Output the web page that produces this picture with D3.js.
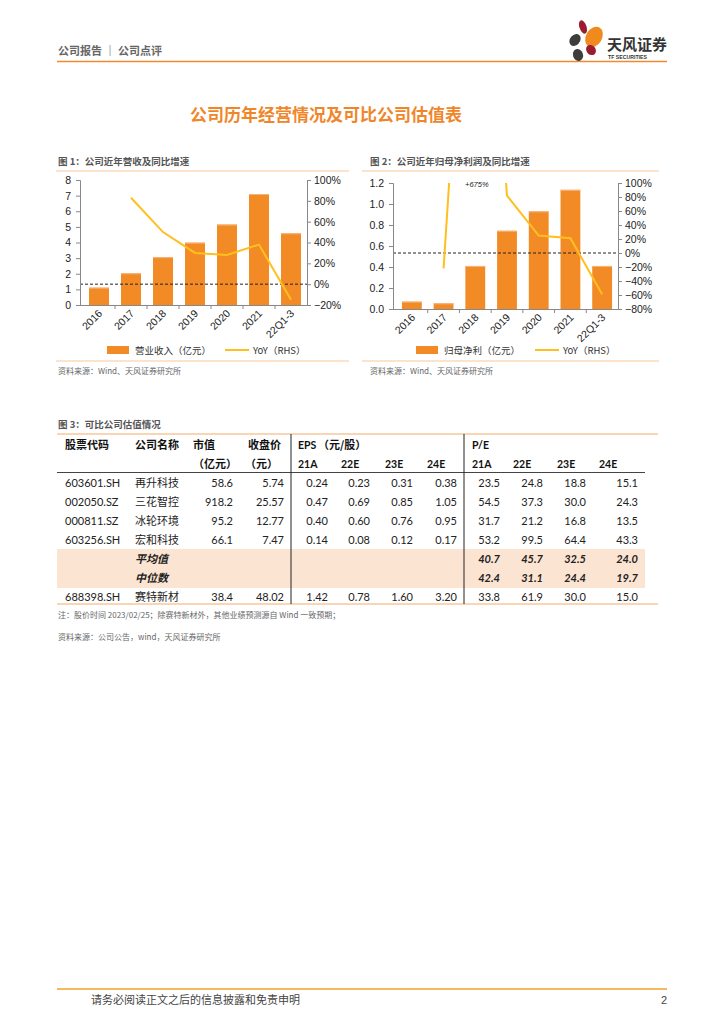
<!DOCTYPE html>
<html><head><meta charset="utf-8">
<script src="https://cdn.jsdelivr.net/npm/d3@7/dist/d3.min.js"></script>
<style>
html,body{margin:0;padding:0;background:#fff;}
svg{display:block;}
</style></head>
<body><div id="chart"></div>
<script>
// ---------- DATA ----------
const years = ["2016","2017","2018","2019","2020","2021","22Q1-3"];
const revenue = [1.11, 2.03, 3.06, 3.99, 5.15, 7.10, 4.59];         // 营业收入（亿元）
const revenueYoY = [null, 0.83, 0.50, 0.30, 0.28, 0.38, -0.15];
const netProfit = [0.07, 0.054, 0.41, 0.745, 0.93, 1.135, 0.41];    // 归母净利（亿元）
const netProfitYoY = [null, -0.22, 6.75, 0.82, 0.25, 0.21, -0.59];
const revLeftTicks = [0,1,2,3,4,5,6,7,8];
const revRightTicks = [-0.2,0,0.2,0.4,0.6,0.8,1.0];
const npLeftTicks = [0,0.2,0.4,0.6,0.8,1.0,1.2];
const npRightTicks = [-0.8,-0.6,-0.4,-0.2,0,0.2,0.4,0.6,0.8,1.0];

const tableCodes = ["603601.SH","002050.SZ","000811.SZ","603256.SH","","","688398.SH"];
const tableNames = ["再升科技","三花智控","冰轮环境","宏和科技","平均值","中位数","赛特新材"];
const tableMktCap = ["58.6","918.2","95.2","66.1","","","38.4"];
const tablePrice = ["5.74","25.57","12.77","7.47","","","48.02"];
const tableEPS = [
  ["0.24","0.23","0.31","0.38"],
  ["0.47","0.69","0.85","1.05"],
  ["0.40","0.60","0.76","0.95"],
  ["0.14","0.08","0.12","0.17"],
  ["","","",""],
  ["","","",""],
  ["1.42","0.78","1.60","3.20"]];
const tablePE = [
  ["23.5","24.8","18.8","15.1"],
  ["54.5","37.3","30.0","24.3"],
  ["31.7","21.2","16.8","13.5"],
  ["53.2","99.5","64.4","43.3"],
  ["40.7","45.7","32.5","24.0"],
  ["42.4","31.1","24.4","19.7"],
  ["33.8","61.9","30.0","15.0"]];
const periods = ["21A","22E","23E","24E"];

// ---------- STYLE ----------
const ORANGE = "#F28A26", YELLOW = "#FFC01E", TITLE = "#F0862A", LIGHT = "#F8C79C";
const CJK = "'Noto Sans CJK SC', sans-serif";
const LAT = "'Liberation Sans', Arial, sans-serif";
const NUM = "Lato, 'Open Sans', sans-serif";
const GRAY = "#555";

const svg = d3.select("#chart").append("svg").attr("width",724).attr("height",1024);
svg.append("rect").attr("width",724).attr("height",1024).attr("fill","#fff");

// ---------- HEADER ----------
svg.append("text").attr("x",58).attr("y",55).attr("font-family",CJK).attr("font-size",11).attr("font-weight",700)
  .attr("fill","#666").text("公司报告 ｜ 公司点评");
svg.append("line").attr("x1",57).attr("x2",667).attr("y1",61.5).attr("y2",61.5).attr("stroke","#F08A2C").attr("stroke-width",1.5);
// logo
const logo = svg.append("g");
[[583,27,3.5,7,-20,"#9B1B30"],[575,40,5,6.5,40,"#3d3d3d"],[594,37,8,11,30,"#F08A1C"],[591,50,4.5,5.5,-40,"#9B1B30"],[578,55,5,6,-20,"#3d3d3d"]]
 .forEach(p=>logo.append("ellipse").attr("cx",p[0]).attr("cy",p[1]).attr("rx",p[2]).attr("ry",p[3])
   .attr("transform",`rotate(${p[4]},${p[0]},${p[1]})`).attr("fill",p[5]));
svg.append("text").attr("x",607).attr("y",50).attr("font-family",CJK).attr("font-size",15).attr("font-weight",700).attr("fill","#333").text("天风证券");
svg.append("text").attr("x",608).attr("y",58.5).attr("font-family",LAT).attr("font-size",5.2).attr("font-weight",700).attr("fill","#333").text("TF SECURITIES");

// ---------- TITLE ----------
svg.append("text").attr("x",326).attr("y",121).attr("text-anchor","middle").attr("font-family",CJK)
  .attr("font-size",17).attr("font-weight",700).attr("fill",TITLE).text("公司历年经营情况及可比公司估值表");

// ---------- CHARTS ----------
function drawChart(o){
  const g = svg.append("g");
  g.append("text").attr("x",o.tx).attr("y",165).attr("font-family",CJK).attr("font-size",9.5).attr("font-weight",700)
    .attr("fill",GRAY).text(o.title);
  g.append("line").attr("x1",o.lx1).attr("x2",o.lx2).attr("y1",171).attr("y2",171).attr("stroke",LIGHT).attr("stroke-width",1.2);
  g.append("line").attr("x1",o.lx1).attr("x2",o.lx2).attr("y1",361).attr("y2",361).attr("stroke",LIGHT).attr("stroke-width",1.2);
  g.append("text").attr("x",o.tx).attr("y",374).attr("font-family",CJK).attr("font-size",8).attr("fill","#666")
    .text("资料来源：Wind、天风证券研究所");

  const x = d3.scaleBand().domain(years).range([o.bx0,o.bx1]).paddingInner(0.375).paddingOuter(0.1875);
  const yL = d3.scaleLinear().domain(o.ldom).range([o.yb,o.yt]);
  const yR = d3.scaleLinear().domain(o.rdom).range([o.yb,o.yt]);

  // bars
  g.selectAll(".bar").data(o.bars).join("rect")
    .attr("x",(d,i)=>x(years[i])).attr("width",x.bandwidth())
    .attr("y",d=>yL(d)).attr("height",d=>o.yb-yL(d)).attr("fill",ORANGE);
  g.selectAll(".bartop").data(o.bars).join("rect")
    .attr("x",(d,i)=>x(years[i])).attr("width",x.bandwidth())
    .attr("y",d=>yL(d)).attr("height",1).attr("fill","#F8B47A");

  // zero dashed line
  g.append("line").attr("x1",o.ax0).attr("x2",o.ax1).attr("y1",yR(0)).attr("y2",yR(0))
    .attr("stroke","#222").attr("stroke-width",1).attr("stroke-dasharray","3,2");

  // axes
  const axL = g.append("g").attr("transform",`translate(${o.ax0},0)`)
    .call(d3.axisLeft(yL).tickValues(o.lticks).tickFormat(o.lfmt).tickSize(4).tickPadding(5));
  const axR = g.append("g").attr("transform",`translate(${o.ax1},0)`)
    .call(d3.axisRight(yR).tickValues(o.rticks).tickFormat(d3.format(".0%")).tickSize(4).tickPadding(3));
  [axL,axR].forEach(a=>{
    a.select(".domain").attr("stroke","#888");
    a.selectAll(".tick line").attr("stroke","#888");
    a.selectAll("text").attr("font-family",LAT).attr("font-size",10.5).attr("fill","#222");
  });
  // x axis
  g.append("line").attr("x1",o.ax0).attr("x2",o.ax1).attr("y1",o.yb+0.5).attr("y2",o.yb+0.5).attr("stroke","#888");
  const step = x.step();
  years.forEach((c,i)=>{
    const bx = x(c)+x.bandwidth()/2 - step/2;
    if(i>0) g.append("line").attr("x1",bx).attr("x2",bx).attr("y1",o.yb).attr("y2",o.yb+4).attr("stroke","#888");
  });
  g.selectAll(".xl").data(years).join("text")
    .attr("transform",d=>`translate(${x(d)+x.bandwidth()/2+4},${o.yb+9}) rotate(-45)`)
    .attr("text-anchor","end").attr("font-family",LAT).attr("font-size",10.5).attr("fill","#222").text(d=>d);

  // line (clipped)
  const cid = "clip"+o.id;
  svg.append("clipPath").attr("id",cid).append("rect")
    .attr("x",o.ax0).attr("y",o.yt).attr("width",o.ax1-o.ax0).attr("height",o.yb-o.yt);
  const pts = o.yoy.map((v,i)=>v==null?null:[x(years[i])+x.bandwidth()/2, yR(v)]).filter(p=>p);
  g.append("path").attr("clip-path",`url(#${cid})`).attr("d",d3.line()(pts))
    .attr("fill","none").attr("stroke",YELLOW).attr("stroke-width",2);

  // legend
  g.append("rect").attr("x",o.lgb).attr("y",346).attr("width",22).attr("height",8).attr("fill",ORANGE);
  g.append("text").attr("x",o.lgb+28).attr("y",354).attr("font-family",CJK).attr("font-size",9.5).attr("fill","#333").text(o.barLabel);
  g.append("line").attr("x1",o.lgl).attr("x2",o.lgl+24).attr("y1",350).attr("y2",350).attr("stroke",YELLOW).attr("stroke-width",2);
  g.append("text").attr("x",o.lgl+28).attr("y",354).attr("font-family",CJK).attr("font-size",9.5).attr("fill","#333").text("YoY（RHS）");
  return {x,yR,g};
}

drawChart({id:1,tx:58,lx1:56,lx2:349,title:"图 1：公司近年营收及同比增速",
  ax0:80,ax1:307,bx0:83,bx1:307,yt:180,yb:305,ldom:[0,8],rdom:[-0.2,1.0],
  lticks:revLeftTicks,rticks:revRightTicks,lfmt:d3.format("d"),
  bars:revenue,yoy:revenueYoY,lgb:107,lgl:225,barLabel:"营业收入（亿元）"});

const c2 = drawChart({id:2,tx:370,lx1:362,lx2:659,title:"图 2：公司近年归母净利润及同比增速",
  ax0:393,ax1:618,bx0:396,bx1:618,yt:183,yb:309,ldom:[0,1.2],rdom:[-0.8,1.0],
  lticks:npLeftTicks,rticks:npRightTicks,lfmt:d3.format(".1f"),
  bars:netProfit,yoy:netProfitYoY,lgb:416,lgl:535,barLabel:"归母净利（亿元）"});
c2.g.append("text").attr("x",465).attr("y",187).attr("font-family",LAT).attr("font-size",7.5)
  .attr("font-style","italic").attr("fill","#222").text("+"+d3.format(".0%")(netProfitYoY[2]));

// ---------- TABLE ----------
const T = svg.append("g");
T.append("text").attr("x",58).attr("y",428).attr("font-family",CJK).attr("font-size",9.5).attr("font-weight",700)
  .attr("fill",GRAY).text("图 3：可比公司估值情况");
const rowY = d3.scalePoint().domain(d3.range(7)).range([483,597]);
// shading for summary rows
T.append("rect").attr("x",57).attr("width",588).attr("y",rowY(4)-10).attr("height",rowY(5)-rowY(4)+20).attr("fill","#FCE4D3");
T.append("line").attr("x1",57).attr("x2",658).attr("y1",434).attr("y2",434).attr("stroke",LIGHT).attr("stroke-width",1.5);
T.append("line").attr("x1",57).attr("x2",645).attr("y1",472.5).attr("y2",472.5).attr("stroke","#444").attr("stroke-width",1);
T.append("line").attr("x1",57).attr("x2",658).attr("y1",604).attr("y2",604).attr("stroke",LIGHT).attr("stroke-width",1.5);
[291,464].forEach(vx=>T.append("line").attr("x1",vx).attr("x2",vx).attr("y1",434).attr("y2",604).attr("stroke","#222").attr("stroke-width",1));

const hdr = (x,y,t,f,anchor)=>T.append("text").attr("x",x).attr("y",y).attr("font-family",f).attr("font-size",f===CJK?11:10.5)
  .attr("font-weight",700).attr("fill","#111").attr("text-anchor",anchor||"start").text(t);
hdr(65,449,"股票代码",CJK); hdr(135,449,"公司名称",CJK); hdr(193,449,"市值",CJK); hdr(248,449,"收盘价",CJK);
hdr(193,468,"（亿元）",CJK); hdr(245,468,"（元）",CJK);
hdr(298,449,"EPS",NUM);
hdr(318,449,"（元/股）",CJK);
hdr(472,449,"P/E",NUM);
const epsHX=[298,341,385,427], epsVX=[328,370,413,457];
const peHX=[472,513,557,599], peVX=[500,543,586,638];
periods.forEach((p,i)=>{hdr(epsHX[i],468,p,NUM); hdr(peHX[i],468,p,NUM);});

const cell=(x,y,t,opt={})=>T.append("text").attr("x",x).attr("y",y).attr("font-family",opt.f||NUM)
  .attr("font-size",opt.s||11).attr("fill","#222").attr("text-anchor",opt.a||"start")
  .attr("font-weight",opt.b?700:400).attr("font-style",opt.i?"italic":"normal").text(t);
d3.range(7).forEach(r=>{
  const y = rowY(r)+4;
  const summary = r===4||r===5;
  cell(65,y,tableCodes[r]);
  cell(135,y,tableNames[r],{f:CJK,s:11,b:summary,i:summary});
  cell(233,y,tableMktCap[r],{a:"end"});
  cell(284,y,tablePrice[r],{a:"end"});
  tableEPS[r].forEach((v,i)=>cell(epsVX[i],y,v,{a:"end"}));
  tablePE[r].forEach((v,i)=>cell(peVX[i],y,v,{a:"end",b:summary,i:summary}));
});
T.append("text").attr("x",58).attr("y",618).attr("font-family",CJK).attr("font-size",8).attr("fill","#666")
  .text("注：股价时间 2023/02/25；除赛特新材外，其他业绩预测源自 Wind 一致预期；");
T.append("text").attr("x",58).attr("y",640).attr("font-family",CJK).attr("font-size",8).attr("fill","#666")
  .text("资料来源：公司公告，wind，天风证券研究所");

// ---------- FOOTER ----------
svg.append("line").attr("x1",57).attr("x2",667).attr("y1",989).attr("y2",989).attr("stroke","#F0A02C").attr("stroke-width",1.5);
svg.append("text").attr("x",91).attr("y",1004).attr("font-family",CJK).attr("font-size",11).attr("fill","#444").text("请务必阅读正文之后的信息披露和免责申明");
svg.append("text").attr("x",667).attr("y",1004).attr("text-anchor","end").attr("font-family",LAT).attr("font-size",11).attr("fill","#444").text("2");
</script></body></html>
